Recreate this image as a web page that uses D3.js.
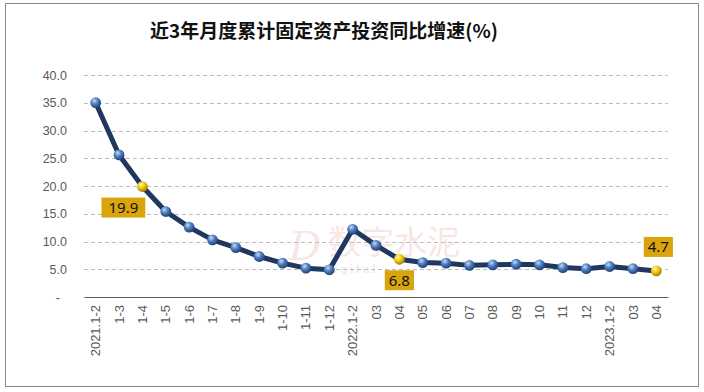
<!DOCTYPE html>
<html><head><meta charset="utf-8">
<script src="https://cdn.jsdelivr.net/npm/d3@7/dist/d3.min.js"></script>
<style>html,body{margin:0;padding:0;background:#fff;}svg{display:block;}</style>
</head><body>
<script>
const categories = ["2021.1-2","1-3","1-4","1-5","1-6","1-7","1-8","1-9","1-10","1-11","1-12",
  "2022.1-2","03","04","05","06","07","08","09","10","11","12","2023.1-2","03","04"];
const values = [35.0,25.6,19.9,15.4,12.6,10.3,8.9,7.3,6.1,5.2,4.9,
  12.2,9.3,6.8,6.2,6.1,5.7,5.8,5.9,5.8,5.3,5.1,5.5,5.1,4.7];
const highlighted = [2, 13, 24];
const yTicks = [0,5,10,15,20,25,30,35,40];
const title = "近3年月度累计固定资产投资同比增速(%)";

const W = 704, H = 392;
const svg = d3.select("body").append("svg").attr("width", W).attr("height", H);
const defs = svg.append("defs");
const gb = defs.append("radialGradient").attr("id","gBlue").attr("cx","38%").attr("cy","32%").attr("r","70%");
gb.append("stop").attr("offset","0%").attr("stop-color","#c9dcf3");
gb.append("stop").attr("offset","45%").attr("stop-color","#4f7fc0");
gb.append("stop").attr("offset","100%").attr("stop-color","#1d3f73");
const gg = defs.append("radialGradient").attr("id","gGold").attr("cx","38%").attr("cy","32%").attr("r","70%");
gg.append("stop").attr("offset","0%").attr("stop-color","#fff6b0");
gg.append("stop").attr("offset","45%").attr("stop-color","#f2cc10");
gg.append("stop").attr("offset","100%").attr("stop-color","#a07a00");

svg.append("rect").attr("x",5.5).attr("y",3.5).attr("width",693).attr("height",383)
  .attr("fill","#fff").attr("stroke","#8a8a8a").attr("stroke-width",1);

svg.append("text").attr("x",324).attr("y",38).attr("text-anchor","middle")
  .attr("font-family","'Noto Sans CJK SC', sans-serif").attr("font-weight","bold")
  .attr("font-size",19).attr("fill","#111").text(title);

const x = d3.scaleBand().domain(d3.range(categories.length)).range([84,668]);
const y = d3.scaleLinear().domain([0,40]).range([297,75]);

// watermark
const wm = svg.append("g").attr("opacity",0.12);
wm.append("text").attr("x",289).attr("y",260).attr("font-family","'DejaVu Serif', serif").attr("font-style","italic")
  .attr("font-size",40).attr("fill","#c0392b").text("D");
wm.append("text").attr("x",328).attr("y",254).attr("font-family","'Noto Sans CJK SC', sans-serif")
  .attr("font-size",33).attr("fill","#c0392b").text("数字水泥");
wm.append("text").attr("x",322).attr("y",273).attr("font-family","'DejaVu Serif', serif")
  .attr("font-size",11).attr("font-weight","bold").attr("fill","#777").attr("letter-spacing",2).text("Digital");

// grid
svg.append("g").selectAll("line").data(yTicks.filter(d=>d>0)).join("line")
  .attr("x1",84).attr("x2",668).attr("y1",d=>Math.round(y(d))+0.5).attr("y2",d=>Math.round(y(d))+0.5)
  .attr("stroke","#bdbdbd").attr("stroke-width",1).attr("stroke-dasharray","4,3");

// y axis
const yAxis = d3.axisLeft(y).tickValues(yTicks).tickSize(0).tickPadding(0)
  .tickFormat(d => d === 0 ? "-" : d.toFixed(1));
const ya = svg.append("g").attr("transform","translate(67,0)").call(yAxis);
ya.select(".domain").remove();
ya.selectAll("text").attr("font-family","'Liberation Sans', Arial, sans-serif").attr("font-size",12.5).attr("fill","#595959")
  .attr("dx", d => d===0 ? -7 : 0);

// x axis
const xAxis = d3.axisBottom(x).tickSize(0).tickPadding(0).tickFormat(i => categories[i]);
const xa = svg.append("g").attr("transform","translate(0,297)").call(xAxis);
xa.select(".domain").attr("stroke","#595959").attr("stroke-width",1.2);
xa.selectAll("text").attr("font-family","'Liberation Sans', Arial, sans-serif").attr("font-size",13).attr("fill","#595959")
  .attr("transform","rotate(-90)").attr("text-anchor","end").attr("x",-8).attr("y",0).attr("dy","0.35em");

// line
const line = d3.line().x((d,i)=>x(i)+x.bandwidth()/2).y(d=>y(d));
svg.append("path").datum(values).attr("d",line).attr("fill","none")
  .attr("stroke","#203760").attr("stroke-width",5).attr("stroke-linejoin","round");

svg.append("g").selectAll("circle").data(values).join("circle")
  .attr("cx",(d,i)=>x(i)+x.bandwidth()/2).attr("cy",d=>y(d)).attr("r",5.4)
  .attr("fill",(d,i)=>highlighted.includes(i) ? "url(#gGold)" : "url(#gBlue)");

// labels
const labelOpts = {2:{dx:-19,dy:21,pad:7}, 13:{dx:0,dy:21,pad:4}, 24:{dx:2,dy:-24,pad:4}};
highlighted.forEach(i => {
  const o = labelOpts[i];
  const cx = x(i)+x.bandwidth()/2 + o.dx, cy = y(values[i]) + o.dy;
  const g = svg.append("g");
  const t = g.append("text").attr("x",cx).attr("y",cy).attr("text-anchor","middle").attr("dy","0.36em")
    .attr("font-family","'Noto Sans', 'Open Sans', sans-serif").attr("font-size",15).attr("fill","#111")
    .text(values[i].toFixed(1));
  const bb = t.node().getBBox();
  g.insert("rect","text").attr("x",bb.x-o.pad).attr("y",cy-10).attr("width",bb.width+2*o.pad).attr("height",20)
    .attr("fill","#d9a40c");
});
</script>
</body></html>
